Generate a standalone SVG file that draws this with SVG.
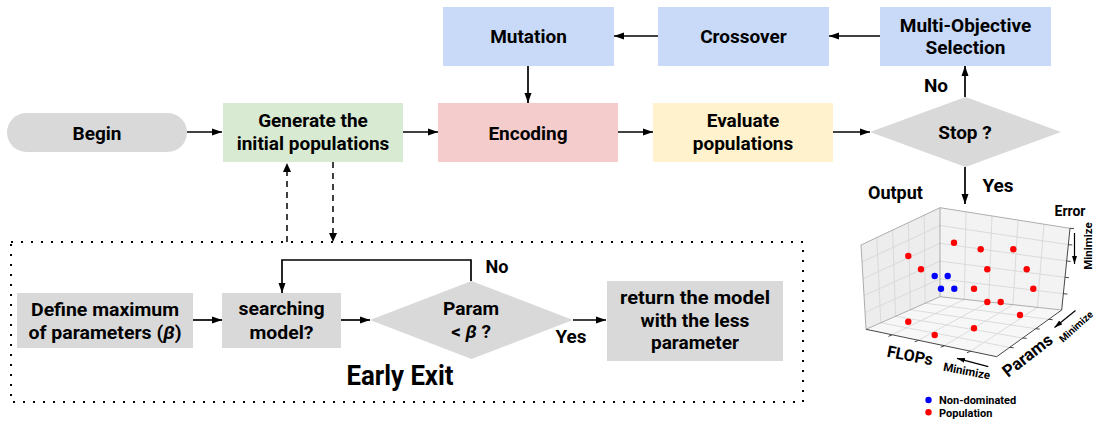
<svg xmlns="http://www.w3.org/2000/svg" width="1095" height="421" viewBox="0 0 1095 421">
<defs>
<marker id="ah" markerUnits="userSpaceOnUse" markerWidth="10" markerHeight="8" refX="10" refY="4" orient="auto"><path d="M0,0.5 L10,4 L0,7.5 z" fill="#000"/></marker>
<marker id="ahs" markerUnits="userSpaceOnUse" markerWidth="8" markerHeight="6" refX="8" refY="3" orient="auto"><path d="M0,0.5 L8,3 L0,5.5 z" fill="#000"/></marker>
<style>
.t{font-family:Roboto,"Liberation Sans",sans-serif;font-weight:bold;fill:#000;}
.m{font-size:19px;text-anchor:middle;}
.l{font-size:19px;text-anchor:middle;}
.c{stroke:#000;stroke-width:1.7;fill:none;marker-end:url(#ah);}
.d{stroke:#000;stroke-width:1.5;fill:none;stroke-dasharray:6,5;}
.g{stroke:#d4d4d4;stroke-width:0.8;fill:none;}
.e{stroke:#9a9a9a;stroke-width:0.8;fill:none;}
.k{stroke:#333;stroke-width:0.9;fill:none;}
.blue{fill:#c9daf8;}
.gray{fill:#d9d9d9;}
</style>
</defs>

<g id="early-exit-frame">
<rect x="11" y="242" width="792" height="160" fill="none" stroke="#000" stroke-width="2" stroke-dasharray="2,8"/>
<text class="t" x="400" y="385" font-size="28" text-anchor="middle" textLength="107" lengthAdjust="spacingAndGlyphs">Early Exit</text>
</g>

<g id="connectors">
<line class="c" x1="187" y1="132" x2="222" y2="132"/>
<line class="c" x1="403" y1="132" x2="438" y2="132"/>
<line class="c" x1="618" y1="132" x2="653" y2="132"/>
<line class="c" x1="833" y1="132" x2="870" y2="132"/>
<line class="c" x1="965" y1="97" x2="965" y2="66"/>
<line class="c" x1="880" y1="36" x2="829" y2="36"/>
<line class="c" x1="658" y1="36" x2="614" y2="36"/>
<line class="c" x1="528" y1="66" x2="528" y2="103"/>
<line class="c" x1="965" y1="167" x2="965" y2="204"/>
<line class="d" x1="287" y1="242" x2="287" y2="170"/>
<path d="M287,163 L291,172 L283,172 z" fill="#000"/>
<line class="d" x1="333" y1="162" x2="333" y2="234"/>
<path d="M333,242 L329,233 L337,233 z" fill="#000"/>
<line class="c" x1="193" y1="320" x2="222" y2="320"/>
<line class="c" x1="341" y1="320" x2="370" y2="320"/>
<polyline class="c" points="471,281 471,260 282,260 282,293"/>
<line class="c" x1="573" y1="320" x2="606" y2="320"/>
<text class="t" x="936" y="92" font-size="19" text-anchor="middle">No</text>
<text class="t" x="998" y="192" font-size="19" text-anchor="middle">Yes</text>
<text class="t" x="497" y="273" font-size="18" text-anchor="middle" textLength="23" lengthAdjust="spacingAndGlyphs">No</text>
<text class="t" x="571" y="343" font-size="18" text-anchor="middle" textLength="31" lengthAdjust="spacingAndGlyphs">Yes</text>
</g>

<g id="begin">
<rect x="7" y="113" width="180" height="39" rx="19.5" class="gray"/>
<text class="t m" x="97" y="140">Begin</text>
</g>
<g id="generate">
<rect x="223" y="103" width="180" height="59" fill="#d9ead3"/>
<text class="t m" x="313" y="127">Generate the</text>
<text class="t m" x="313" y="150">initial populations</text>
</g>
<g id="encoding">
<rect x="438" y="103" width="180" height="59" fill="#f4cccc"/>
<text class="t m" x="528" y="140">Encoding</text>
</g>
<g id="evaluate">
<rect x="653" y="103" width="180" height="59" fill="#fff2cc"/>
<text class="t m" x="743" y="127">Evaluate</text>
<text class="t m" x="743" y="150">populations</text>
</g>
<g id="stop">
<polygon points="870,132 965.5,97 1061,132 965.5,167" class="gray"/>
<text class="t m" x="965" y="139">Stop ?</text>
</g>
<g id="mutation">
<rect x="443" y="7" width="171" height="59" class="blue"/>
<text class="t m" x="528.5" y="43">Mutation</text>
</g>
<g id="crossover">
<rect x="658" y="7" width="171" height="59" class="blue"/>
<text class="t m" x="743.5" y="43">Crossover</text>
</g>
<g id="selection">
<rect x="880" y="7" width="171" height="59" class="blue"/>
<text class="t m" x="965.5" y="32">Multi-Objective</text>
<text class="t m" x="965.5" y="54">Selection</text>
</g>

<g id="define">
<rect x="17" y="293" width="176" height="55" class="gray"/>
<text class="t l" x="105" y="316" textLength="148" lengthAdjust="spacingAndGlyphs">Define maximum</text>
<text class="t l" x="105" y="339" textLength="153" lengthAdjust="spacingAndGlyphs">of parameters (<tspan font-style="italic">β</tspan>)</text>
</g>
<g id="searching">
<rect x="222" y="293" width="119" height="55" class="gray"/>
<text class="t l" x="281.5" y="315" textLength="86" lengthAdjust="spacingAndGlyphs">searching</text>
<text class="t l" x="281.5" y="339" textLength="64" lengthAdjust="spacingAndGlyphs">model?</text>
</g>
<g id="param-check">
<polygon points="370,320 471.5,281 573,320 471.5,359" class="gray"/>
<text class="t l" x="471" y="315" textLength="56" lengthAdjust="spacingAndGlyphs">Param</text>
<text class="t l" x="471" y="338">&lt; <tspan font-style="italic">β</tspan> ?</text>
</g>
<g id="return">
<rect x="607" y="281" width="176" height="80" class="gray"/>
<text class="t l" x="695" y="304" textLength="150" lengthAdjust="spacingAndGlyphs">return the model</text>
<text class="t l" x="695" y="327" textLength="109" lengthAdjust="spacingAndGlyphs">with the less</text>
<text class="t l" x="695" y="349">parameter</text>
</g>

<g id="output-plot">
<text class="t" x="868" y="199" font-size="18">Output</text>
<polygon points="861,245 940,207.7 940,296.7 866,329.3" fill="#ededed"/>
<polygon points="940,207.7 1070,228.3 1061.7,310 940,296.7" fill="#f3f3f3"/>
<polygon points="940,296.7 866,329.3 996.7,356.7 1061.7,310" fill="#f7f7f7"/>
<g class="g">
<line x1="880.8" y1="322.8" x2="876.8" y2="237.5"/>
<line x1="895.6" y1="316.3" x2="892.6" y2="230.1"/>
<line x1="910.4" y1="309.7" x2="908.4" y2="222.6"/>
<line x1="925.2" y1="303.2" x2="924.2" y2="215.2"/>
<line x1="865" y1="312.4" x2="940" y2="278.9"/>
<line x1="864" y1="295.6" x2="940" y2="261.1"/>
<line x1="863" y1="278.7" x2="940" y2="243.3"/>
<line x1="862" y1="261.9" x2="940" y2="225.5"/>
<line x1="964.3" y1="299.4" x2="966" y2="211.8"/>
<line x1="988.7" y1="302" x2="992" y2="215.9"/>
<line x1="1013" y1="304.7" x2="1018" y2="220.1"/>
<line x1="1037.4" y1="307.3" x2="1044" y2="224.2"/>
<line x1="940" y1="278.9" x2="1063.4" y2="293.7"/>
<line x1="940" y1="261.1" x2="1065" y2="277.3"/>
<line x1="940" y1="243.3" x2="1066.7" y2="261"/>
<line x1="940" y1="225.5" x2="1068.3" y2="244.6"/>
<line x1="925.2" y1="303.2" x2="1048.7" y2="319.3"/>
<line x1="910.4" y1="309.7" x2="1035.7" y2="328.7"/>
<line x1="895.6" y1="316.3" x2="1022.7" y2="338"/>
<line x1="880.8" y1="322.8" x2="1009.7" y2="347.4"/>
<line x1="964.3" y1="299.4" x2="892.1" y2="334.8"/>
<line x1="988.7" y1="302" x2="918.3" y2="340.3"/>
<line x1="1013" y1="304.7" x2="944.4" y2="345.7"/>
<line x1="1037.4" y1="307.3" x2="970.6" y2="351.2"/>
</g>
<g class="e">
<polyline points="866,329.3 861,245 940,207.7 1070,228.3"/>
<polyline points="940,207.7 940,296.7 866,329.3"/>
<line x1="940" y1="296.7" x2="1061.7" y2="310"/>
</g>
<g class="k">
<polyline points="866,329.3 996.7,356.7 1061.7,310 1070,228.3"/>
<line x1="892.1" y1="334.8" x2="888.4" y2="336.4"/>
<line x1="918.3" y1="340.3" x2="914.6" y2="341.9"/>
<line x1="944.4" y1="345.7" x2="940.7" y2="347.3"/>
<line x1="970.6" y1="351.2" x2="966.9" y2="352.8"/>
<line x1="1048.7" y1="319.3" x2="1052.7" y2="319.7"/>
<line x1="1035.7" y1="328.7" x2="1039.7" y2="329.1"/>
<line x1="1022.7" y1="338" x2="1026.7" y2="338.4"/>
<line x1="1009.7" y1="347.4" x2="1013.7" y2="347.8"/>
<line x1="1063.4" y1="293.7" x2="1067.4" y2="294.1"/>
<line x1="1065" y1="277.3" x2="1069" y2="277.7"/>
<line x1="1066.7" y1="261" x2="1070.7" y2="261.4"/>
<line x1="1068.3" y1="244.6" x2="1072.3" y2="245"/>
<line x1="1070" y1="228.3" x2="1074" y2="228.7"/>
</g>
<g fill="#ff0000">
<circle cx="954" cy="242.7" r="3.2"/>
<circle cx="980.7" cy="249.3" r="3.2"/>
<circle cx="1013.3" cy="249.3" r="3.2"/>
<circle cx="908.3" cy="256" r="3.2"/>
<circle cx="921" cy="269.3" r="3.2"/>
<circle cx="987.3" cy="269.3" r="3.2"/>
<circle cx="1026.7" cy="269.3" r="3.2"/>
<circle cx="974" cy="288.7" r="3.2"/>
<circle cx="1033.3" cy="288.7" r="3.2"/>
<circle cx="987.3" cy="302" r="3.2"/>
<circle cx="1000.7" cy="302" r="3.2"/>
<circle cx="1020" cy="315" r="3.2"/>
<circle cx="908.3" cy="321.7" r="3.2"/>
<circle cx="974" cy="328.3" r="3.2"/>
<circle cx="934.7" cy="335" r="3.2"/>
</g>
<g fill="#0000ff">
<circle cx="934.7" cy="276" r="3.2"/>
<circle cx="947.7" cy="276" r="3.2"/>
<circle cx="941" cy="288.7" r="3.2"/>
<circle cx="954.3" cy="288.7" r="3.2"/>
</g>
<text class="t" x="1070" y="216" font-size="14" text-anchor="middle">Error</text>
<text class="t" x="1092" y="246" font-size="11.5" text-anchor="middle" transform="rotate(-90 1092 246)">Minimize</text>
<line x1="1074.5" y1="233" x2="1074.5" y2="264" stroke="#000" stroke-width="1.2" marker-end="url(#ahs)"/>
<text class="t" x="909" y="361" font-size="16" text-anchor="middle" transform="rotate(11 909 361)">FLOPs</text>
<text class="t" x="966" y="375" font-size="11.5" text-anchor="middle" transform="rotate(11 966 375)">Minimize</text>
<line x1="988.3" y1="366.7" x2="957" y2="358.3" stroke="#000" stroke-width="1.2" marker-end="url(#ahs)"/>
<text class="t" x="1031" y="360" font-size="17" text-anchor="middle" transform="rotate(-38 1031 360)">Params</text>
<text class="t" x="1063" y="343" font-size="10" transform="rotate(-42 1063 343)">Minimize</text>
<line x1="1075.5" y1="310.5" x2="1054.5" y2="327.5" stroke="#000" stroke-width="1.2" marker-end="url(#ahs)"/>
<circle cx="928.5" cy="400" r="3.2" fill="#0000ff"/>
<text class="t" x="939" y="404" font-size="11">Non-dominated</text>
<circle cx="928.5" cy="412.3" r="3.2" fill="#ff0000"/>
<text class="t" x="939" y="416.5" font-size="11">Population</text>
</g>
</svg>
